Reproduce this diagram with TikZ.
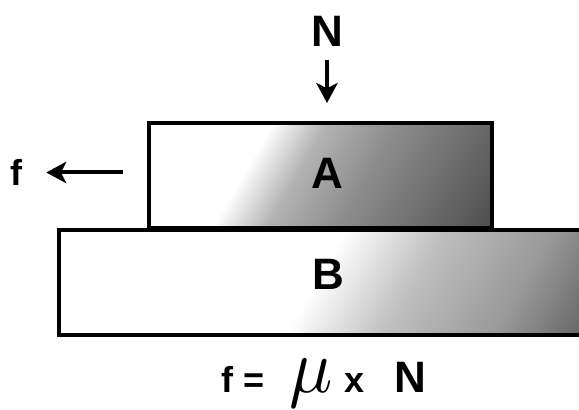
\documentclass[tikz,border=0pt]{standalone}
\usepackage{fontspec}
\setmainfont{Liberation Sans}
\usetikzlibrary{arrows.meta}
\pgfdeclarehorizontalshading{shadeA}{100bp}{color(0bp)=(white); color(40bp)=(white); color(47bp)=(black!30); color(56bp)=(black!45); color(76bp)=(black!70); color(100bp)=(black!70)}
\pgfdeclarehorizontalshading{shadeB}{100bp}{color(0bp)=(white); color(49bp)=(white); color(57bp)=(black!25); color(66bp)=(black!40); color(75bp)=(black!65); color(100bp)=(black!65)}

\begin{document}
\begin{tikzpicture}[
    x=0.75pt,y=-0.75pt,
    lbl/.style={font=\bfseries\fontsize{33}{36}\selectfont,inner sep=0pt},
    small/.style={font=\bfseries\fontsize{27}{30}\selectfont,inner sep=0pt},
    block/.style={draw=black,line width=3.6pt,outer sep=0pt,inner sep=0pt},
    force/.style={-{Stealth[length=15pt,width=16pt,inset=4pt]},line width=3pt}
  ]
    \clip (0,0) rectangle (579,410);
    % lower block B
    \begin{scope}
      \clip (59,230) rectangle (595,335);
      \shade[shading=shadeB,shading angle=-30] (59,14.5) rectangle (595,550.5);
    \end{scope}
    \node[block,minimum width=402pt,minimum height=78.75pt] (blockB) at (327,282.5) {};
    % upper block A
    \begin{scope}
      \clip (149,123) rectangle (492,228);
      \shade[shading=shadeA,shading angle=-30] (149,4) rectangle (492,347);
    \end{scope}
    \node[block,minimum width=257.25pt,minimum height=78.75pt] (blockA) at (320.5,175.5) {};
    \node[lbl] (labA) at (327,173) {A};
    \node[lbl] (labB) at (328,274) {B};
    % forces
    \node[lbl] (labN) at (327,31) {N};
    \node[small] (labf) at (16,172.5) {f};
    \draw[force,shorten <=10pt,shorten >=15pt] (labN.south) -- (blockA.north -| labN.south);
    \draw[force,shorten <=19.5pt,shorten >=18pt] (labf.east -| blockA.west) -- (labf.east);
    % friction law
    \node[anchor=base west,inner sep=0pt] (law) at (221,392)
      {{\bfseries\fontsize{27}{30}\selectfont f\hspace{7.5pt}=}\hspace{19pt}\scalebox{5.4}[5.8]{$\mu$}\hspace{9pt}{\bfseries\fontsize{27}{30}\selectfont x}\hspace{22pt}{\bfseries\fontsize{33}{36}\selectfont N}};
\end{tikzpicture}
\end{document}
